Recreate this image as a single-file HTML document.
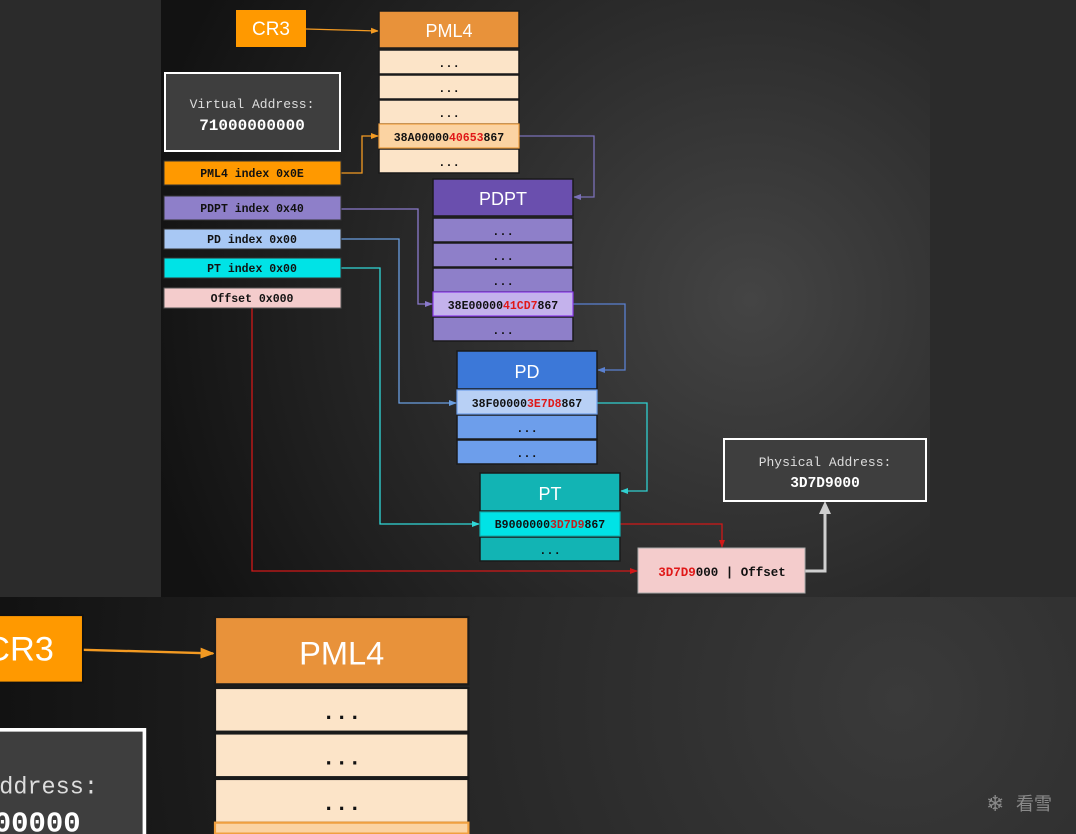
<!DOCTYPE html>
<html><head><meta charset="utf-8"><style>
html,body{margin:0;padding:0;background:#2b2b2b;width:1076px;height:834px;overflow:hidden;}
svg{display:block}
.m{font-family:"Liberation Mono",monospace}
.s{font-family:"Liberation Sans",sans-serif}
</style></head><body>
<svg width="1076" height="834" viewBox="0 0 1076 834" xmlns="http://www.w3.org/2000/svg" overflow="hidden">
<defs>
<radialGradient id="bg1" cx="750" cy="300" r="620" gradientUnits="userSpaceOnUse">
<stop offset="0" stop-color="#444"/><stop offset="0.6" stop-color="#262626"/><stop offset="1" stop-color="#121212"/></radialGradient>
<radialGradient id="bg2" cx="900" cy="700" r="900" gradientUnits="userSpaceOnUse">
<stop offset="0" stop-color="#3a3a3a"/><stop offset="0.6" stop-color="#232323"/><stop offset="1" stop-color="#121212"/></radialGradient>
<marker id="ar" markerWidth="8" markerHeight="8" refX="7" refY="4" orient="auto" markerUnits="userSpaceOnUse"><path d="M0,1 L8,4 L0,7z" fill="context-stroke"/></marker>
</defs>
<rect x="0" y="0" width="1076" height="834" fill="#2b2b2b"/>
<rect x="161" y="0" width="769" height="597" fill="url(#bg1)"/>
<rect x="0" y="597" width="1076" height="237" fill="url(#bg2)"/>

<g id="dia">
<g fill="none" stroke-width="1.3">
<path d="M306,29 L378,31" stroke="#f39a22" marker-end="url(#ar)"/>
<path d="M341,173 H362 V136 H378" stroke="#f39a22" marker-end="url(#ar)"/>
<path d="M519,136 H594 V197 H574" stroke="#7a70b8" marker-end="url(#ar)"/>
<path d="M341,209 H418 V304 H432" stroke="#8a7acc" marker-end="url(#ar)"/>
<path d="M573,304 H625 V370 H598" stroke="#5a80d0" marker-end="url(#ar)"/>
<path d="M341,239 H399 V403 H456" stroke="#6a9ee0" marker-end="url(#ar)"/>
<path d="M597,403 H647 V491 H621" stroke="#30d0d0" marker-end="url(#ar)"/>
<path d="M341,268 H380 V524 H479" stroke="#30d8d8" marker-end="url(#ar)"/>
<path d="M620,524 H722 V547" stroke="#d01818" marker-end="url(#ar)"/>
<path d="M252,308 V571 H637" stroke="#d01818" marker-end="url(#ar)"/>
</g>
<path d="M805,571 H825 V512" fill="none" stroke="#cfcfcf" stroke-width="3"/>
<path d="M819,514 L825,501 L831,514z" fill="#cfcfcf"/>

<rect x="236" y="10" width="70" height="37" fill="#ff9900"/>
<text x="271" y="35" class="s" font-size="19" fill="#fff" text-anchor="middle">CR3</text>

<rect x="165" y="73" width="175" height="78" fill="#3e3e3e" stroke="#fff" stroke-width="2"/>
<text x="252" y="108" class="m" font-size="13" fill="#ddd" text-anchor="middle">Virtual Address:</text>
<text x="252" y="130" class="m" font-size="16" font-weight="bold" fill="#fff" text-anchor="middle">71000000000</text>

<g class="m" font-size="11.5" font-weight="bold" text-anchor="middle" fill="#111">
<rect x="164" y="161" width="177" height="24" fill="#ff9900" stroke="#333"/>
<text x="252" y="177">PML4 index 0x0E</text>
<rect x="164" y="196" width="177" height="24" fill="#8e7fc9" stroke="#333"/>
<text x="252" y="212">PDPT index 0x40</text>
<rect x="164" y="229" width="177" height="20" fill="#a8c8f4" stroke="#333"/>
<text x="252" y="243">PD index 0x00</text>
<rect x="164" y="258" width="177" height="20" fill="#00e3e6" stroke="#333"/>
<text x="252" y="272">PT index 0x00</text>
<rect x="164" y="288" width="177" height="20" fill="#f4cccc" stroke="#555"/>
<text x="252" y="302">Offset 0x000</text>
</g>

<g stroke="#1a1a1a" stroke-width="1.5">
<rect x="379" y="11" width="140" height="37" fill="#e8923a"/>
<rect x="379" y="50" width="140" height="24" fill="#fce4c8"/>
<rect x="379" y="75" width="140" height="24" fill="#fce4c8"/>
<rect x="379" y="100" width="140" height="24" fill="#fce4c8"/>
<rect x="379" y="149" width="140" height="24" fill="#fce4c8"/>
</g>
<rect x="379" y="124" width="140" height="24" fill="#fbd3a2" stroke="#f0a040" stroke-width="1.2"/>
<text x="449" y="37" class="s" font-size="18" fill="#fff" text-anchor="middle">PML4</text>
<g class="m" font-size="12" font-weight="bold" text-anchor="middle" fill="#111">
<text x="449" y="67">...</text><text x="449" y="92">...</text><text x="449" y="117">...</text><text x="449" y="166">...</text>
<text x="449" y="141" font-size="11.5">38A00000<tspan fill="#e01818">40653</tspan>867</text>
</g>

<g stroke="#1a1a1a" stroke-width="1.5">
<rect x="433" y="179" width="140" height="37" fill="#6a4fae"/>
<rect x="433" y="218" width="140" height="24" fill="#8e7fc9"/>
<rect x="433" y="243" width="140" height="24" fill="#8e7fc9"/>
<rect x="433" y="268" width="140" height="24" fill="#8e7fc9"/>
<rect x="433" y="317" width="140" height="24" fill="#8e7fc9"/>
</g>
<rect x="433" y="292" width="140" height="24" fill="#c4b2ec" stroke="#8a3ae8" stroke-width="1.2"/>
<text x="503" y="205" class="s" font-size="18" fill="#fff" text-anchor="middle">PDPT</text>
<g class="m" font-size="12" font-weight="bold" text-anchor="middle" fill="#111">
<text x="503" y="235">...</text><text x="503" y="260">...</text><text x="503" y="285">...</text><text x="503" y="334">...</text>
<text x="503" y="309" font-size="11.5">38E00000<tspan fill="#e01818">41CD7</tspan>867</text>
</g>

<g stroke="#1a1a1a" stroke-width="1.5">
<rect x="457" y="351" width="140" height="38" fill="#3c78d8"/>
<rect x="457" y="415" width="140" height="24" fill="#6d9eeb"/>
<rect x="457" y="440" width="140" height="24" fill="#6d9eeb"/>
</g>
<rect x="457" y="390" width="140" height="24" fill="#b8d0f5" stroke="#6d9eeb" stroke-width="1.2"/>
<text x="527" y="378" class="s" font-size="18" fill="#fff" text-anchor="middle">PD</text>
<g class="m" font-size="12" font-weight="bold" text-anchor="middle" fill="#111">
<text x="527" y="432">...</text><text x="527" y="457">...</text>
<text x="527" y="407" font-size="11.5">38F00000<tspan fill="#e01818">3E7D8</tspan>867</text>
</g>

<g stroke="#1a1a1a" stroke-width="1.5">
<rect x="480" y="473" width="140" height="38" fill="#12b4b4"/>
<rect x="480" y="537" width="140" height="24" fill="#12b4b4"/>
</g>
<rect x="480" y="512" width="140" height="24" fill="#00e3e6" stroke="#10b0b0" stroke-width="1.2"/>
<text x="550" y="500" class="s" font-size="18" fill="#fff" text-anchor="middle">PT</text>
<g class="m" font-size="12" font-weight="bold" text-anchor="middle" fill="#111">
<text x="550" y="554">...</text>
<text x="550" y="528" font-size="11.5">B9000000<tspan fill="#c02020">3D7D9</tspan>867</text>
</g>

<rect x="638" y="548" width="167" height="45" fill="#f4cccc" stroke="#aaa"/>
<text x="722" y="576" class="m" font-size="12.5" font-weight="bold" fill="#111" text-anchor="middle"><tspan fill="#e01818">3D7D9</tspan>000 | Offset</text>

<rect x="724" y="439" width="202" height="62" fill="#3e3e3e" stroke="#fff" stroke-width="2"/>
<text x="825" y="466" class="m" font-size="13" fill="#ddd" text-anchor="middle">Physical Address:</text>
<text x="825" y="487" class="m" font-size="14.5" font-weight="bold" fill="#fff" text-anchor="middle">3D7D9000</text>
</g>

<g transform="translate(215,617) scale(1.81,1.82) translate(-379,-11)">
<path d="M306,29 L378,31" fill="none" stroke-width="1.3" stroke="#f39a22" marker-end="url(#ar)"/>
<rect x="250" y="10" width="56" height="37" fill="#ff9900" stroke="#111"/>
<text x="271" y="35" class="s" font-size="19" fill="#fff" text-anchor="middle">CR3</text>
<rect x="250" y="73" width="90" height="58" fill="#3e3e3e"/>
<path d="M250,73 H340 V131" fill="none" stroke="#fff" stroke-width="2"/>
<text x="252" y="108" class="m" font-size="13" fill="#ddd" text-anchor="middle">Virtual Address:</text>
<text x="252" y="129" class="m" font-size="16" font-weight="bold" fill="#fff" text-anchor="middle">71000000000</text>
<g stroke="#1a1a1a" stroke-width="1.2">
<rect x="379" y="11" width="140" height="37" fill="#e8923a"/>
<rect x="379" y="50" width="140" height="24" fill="#fce4c8"/>
<rect x="379" y="75" width="140" height="24" fill="#fce4c8"/>
<rect x="379" y="100" width="140" height="24" fill="#fce4c8"/>
</g>
<rect x="379" y="124" width="140" height="6" fill="#fbd3a2" stroke="#f0a040" stroke-width="1.2"/>
<text x="449" y="37" class="s" font-size="18" fill="#fff" text-anchor="middle">PML4</text>
<g class="m" font-size="12" font-weight="bold" text-anchor="middle" fill="#111">
<text x="449" y="67">...</text><text x="449" y="92">...</text><text x="449" y="117">...</text>
</g>
</g>

<text x="986" y="811" font-family="DejaVu Sans,sans-serif" font-size="22" fill="#8a8a8a">❄</text>
<text x="1016" y="810" font-family="'Noto Sans CJK SC',sans-serif" font-size="18" fill="#8a8a8a">看雪</text>
</svg>
</body></html>
